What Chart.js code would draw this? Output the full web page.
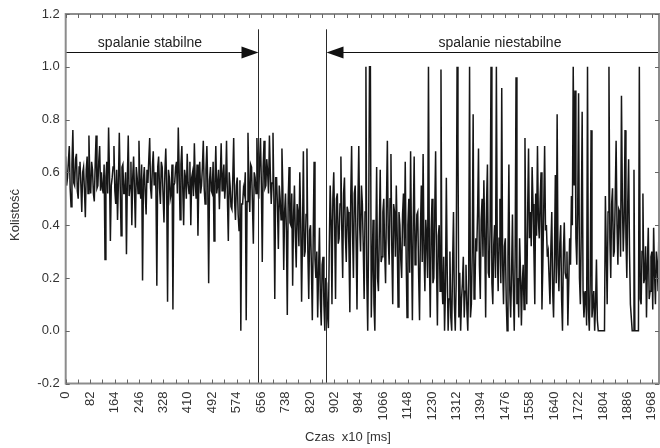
<!DOCTYPE html>
<html>
<head>
<meta charset="utf-8">
<script src="https://cdn.jsdelivr.net/npm/chart.js@4.4.1/dist/chart.umd.min.js"></script>
<style>
  html, body { margin: 0; padding: 0; background: #fff; }
  #wrap { width: 660px; height: 448px; }
</style>
</head>
<body>
<div id="wrap"><canvas id="c" width="660" height="448"></canvas></div>
<script>
// Sampling interval of the series, in units of 10 ms
const SAMPLE_STEP = 3;

// Circularity (kolistość) of the flame, one value per sample
const kolistosc = [
  0.66,0.55,0.58,0.64,0.70,0.54,0.47,0.63,0.76,0.56,0.55,0.65,0.67,0.53,0.50,0.62,0.64,0.55,0.45,0.60,
  0.62,0.53,0.43,0.61,0.66,0.52,0.74,0.57,0.52,0.64,0.61,0.52,0.49,0.63,0.74,0.54,0.55,0.64,0.70,0.53,
  0.60,0.54,0.52,0.63,0.27,0.58,0.64,0.52,0.77,0.60,0.34,0.55,0.58,0.62,0.70,0.53,0.48,0.61,0.42,0.56,
  0.75,0.55,0.36,0.62,0.63,0.52,0.52,0.60,0.29,0.57,0.74,0.51,0.55,0.64,0.40,0.58,0.66,0.53,0.39,0.62,
  0.58,0.52,0.72,0.55,0.50,0.63,0.19,0.57,0.62,0.52,0.44,0.61,0.56,0.65,0.73,0.54,0.50,0.62,0.68,0.55,
  0.60,0.53,0.17,0.62,0.66,0.54,0.48,0.64,0.62,0.51,0.41,0.60,0.69,0.55,0.11,0.61,0.58,0.50,0.52,0.63,
  0.08,0.55,0.56,0.62,0.64,0.52,0.77,0.60,0.42,0.63,0.70,0.54,0.40,0.61,0.58,0.50,0.67,0.56,0.52,0.64,
  0.40,0.58,0.60,0.51,0.71,0.56,0.50,0.63,0.36,0.57,0.64,0.52,0.55,0.62,0.72,0.54,0.48,0.61,0.70,0.55,
  0.18,0.57,0.62,0.53,0.52,0.64,0.34,0.56,0.70,0.52,0.55,0.61,0.46,0.58,0.71,0.53,0.58,0.63,0.50,0.56,
  0.72,0.50,0.34,0.60,0.55,0.47,0.46,0.58,0.73,0.49,0.42,0.55,0.58,0.44,0.38,0.57,0.00,0.48,0.48,0.54,
  0.52,0.60,0.04,0.49,0.75,0.55,0.45,0.63,0.62,0.48,0.33,0.60,0.58,0.52,0.73,0.57,0.50,0.64,0.73,0.55,
  0.26,0.62,0.72,0.54,0.55,0.65,0.60,0.52,0.74,0.60,0.48,0.56,0.75,0.50,0.12,0.58,0.58,0.47,0.31,0.55,
  0.50,0.42,0.69,0.54,0.23,0.45,0.52,0.38,0.06,0.50,0.62,0.41,0.40,0.52,0.17,0.43,0.55,0.36,0.24,0.48,
  0.45,0.32,0.60,0.42,0.11,0.36,0.68,0.28,0.30,0.44,0.69,0.30,0.12,0.38,0.40,0.24,0.04,0.35,0.64,0.27,
  0.20,0.30,0.05,0.22,0.39,0.12,0.02,0.25,0.28,0.10,0.00,0.20,0.18,0.06,0.01,0.32,0.55,0.42,0.10,0.50,
  0.60,0.40,0.12,0.50,0.52,0.33,0.35,0.48,0.66,0.38,0.20,0.52,0.58,0.36,0.26,0.47,0.45,0.31,0.07,0.50,
  0.70,0.38,0.20,0.52,0.55,0.34,0.08,0.47,0.70,0.40,0.30,0.55,0.48,0.32,0.12,0.45,1.00,0.20,0.00,0.35,
  1.00,1.00,0.05,0.25,0.42,0.10,0.00,0.30,0.62,0.20,0.15,0.38,0.61,0.26,0.28,0.45,0.50,0.30,0.18,0.48,
  0.72,0.35,0.25,0.50,0.67,0.30,0.10,0.48,0.45,0.28,0.55,0.36,0.09,0.45,0.40,0.27,0.20,0.44,0.52,0.32,
  0.64,0.28,0.05,0.40,0.50,0.22,0.68,0.33,0.04,0.42,0.66,0.25,0.30,0.44,0.45,0.21,0.04,0.38,0.55,0.26,
  0.67,0.30,0.15,0.42,0.35,0.20,1.00,0.28,0.05,0.38,0.50,0.18,0.20,0.44,0.68,0.25,0.02,0.36,0.40,0.15,
  0.99,0.20,0.10,0.28,0.00,0.15,0.58,0.22,0.00,0.12,0.30,0.05,0.00,0.25,0.45,0.10,0.00,0.18,1.00,0.71,
  0.05,0.22,0.00,0.12,0.18,0.28,0.05,0.15,0.25,0.08,0.00,0.20,1.00,0.05,0.10,0.30,0.82,0.12,0.15,0.35,
  0.30,0.45,0.69,0.25,0.12,0.42,0.50,0.28,0.57,0.35,0.05,0.48,0.63,0.22,0.20,0.40,1.00,0.18,0.10,0.32,
  0.40,0.20,1.00,0.30,0.15,0.35,0.50,0.18,0.92,0.25,0.10,0.32,0.35,0.12,0.00,0.28,0.63,0.15,0.05,0.22,
  0.44,0.15,0.00,0.28,0.96,0.10,0.20,0.05,0.35,0.22,0.02,0.18,0.25,0.08,0.73,0.30,0.10,0.45,0.69,0.35,
  0.45,0.32,0.62,0.48,0.30,0.10,0.52,0.36,0.70,0.42,0.35,0.50,0.60,0.08,0.25,0.46,0.70,0.38,0.40,0.28,
  0.30,0.20,0.10,0.32,0.45,0.15,0.05,0.28,0.59,0.18,0.82,0.25,0.15,0.33,0.40,0.12,0.00,0.30,0.41,0.22,
  0.20,0.30,0.02,0.18,0.35,0.25,0.51,0.40,1.00,0.55,0.91,0.35,0.25,0.45,0.90,0.20,0.10,0.38,0.83,0.15,
  0.05,0.12,0.15,0.02,1.00,0.08,0.00,0.18,0.76,0.05,0.10,0.15,0.00,0.10,0.27,0.04,0.00,0.00,0.00,0.00,
  0.00,0.00,0.00,0.00,0.51,0.30,0.10,0.45,1.00,0.35,0.20,0.48,0.54,0.28,0.30,0.50,0.72,0.40,0.25,0.46,
  0.45,0.28,0.89,0.50,0.30,0.42,0.76,0.35,0.20,0.48,0.65,0.30,0.10,0.05,0.00,0.00,0.61,0.00,0.00,0.00,
  0.00,0.00,1.00,0.12,0.10,0.30,0.52,0.18,0.20,0.32,0.05,0.25,0.39,0.12,0.15,0.28,0.30,0.08,0.39,0.22,
  0.10,0.30,0.25,0.15,0.42
];

// Time of each sample (x10 ms)
const czas = kolistosc.map((_, i) => i * SAMPLE_STEP);

// Axis tick labels
const xTickLabels = [0, 82, 164, 246, 328, 410, 492, 574, 656, 738, 820, 902, 984,
  1066, 1148, 1230, 1312, 1394, 1476, 1558, 1640, 1722, 1804, 1886, 1968];
const yTickLabels = [-0.2, 0.0, 0.2, 0.4, 0.6, 0.8, 1.0, 1.2];

// Boundaries between combustion regimes (x10 ms) and their names
const phaseBounds = [645, 873];
const phaseNames = ['spalanie stabilne', 'spalanie niestabilne'];

const FONT = '"Liberation Sans", Arial, Helvetica, sans-serif';

// Tick marks every half label step
const xMarks = [];
xTickLabels.forEach((v, i) => {
  xMarks.push(v);
  if (i < xTickLabels.length - 1) xMarks.push((v + xTickLabels[i + 1]) / 2);
});

const decorations = {
  id: 'decorations',
  afterDatasetsDraw(chart, args, opts) {
    const { ctx, chartArea: { left, right, bottom }, scales: { x, y } } = chart;
    ctx.save();

    // regime boundaries
    ctx.strokeStyle = '#2a2a2a';
    ctx.lineWidth = 1;
    const bx = phaseBounds.map(v => Math.round(x.getPixelForValue(v)) + 0.5);
    const lineTop = y.getPixelForValue(opts.boundTop);
    bx.forEach(px => {
      ctx.beginPath();
      ctx.moveTo(px, lineTop);
      ctx.lineTo(px, bottom);
      ctx.stroke();
    });

    // arrows
    const ay = Math.round(y.getPixelForValue(opts.arrowLevel)) + 0.5;
    ctx.strokeStyle = '#111';
    ctx.fillStyle = '#111';
    const head = (tipX, dir) => {
      ctx.beginPath();
      ctx.moveTo(tipX, ay);
      ctx.lineTo(tipX - dir * 17, ay - 6);
      ctx.lineTo(tipX - dir * 17, ay + 6);
      ctx.closePath();
      ctx.fill();
    };
    ctx.beginPath();
    ctx.moveTo(left, ay); ctx.lineTo(bx[0] - 10, ay);
    ctx.moveTo(right, ay); ctx.lineTo(bx[1] + 10, ay);
    ctx.stroke();
    head(bx[0], 1);
    head(bx[1], -1);

    // regime names
    ctx.font = '14px ' + FONT;
    ctx.fillStyle = '#222';
    ctx.textAlign = 'center';
    ctx.textBaseline = 'middle';
    const ly = y.getPixelForValue(opts.labelLevel);
    ctx.fillText(phaseNames[0], x.getPixelForValue(opts.labelAt[0]), ly);
    ctx.fillText(phaseNames[1], x.getPixelForValue(opts.labelAt[1]), ly);
    ctx.restore();
  },
  afterDraw(chart) {
    const { ctx, chartArea: { left, right, top, bottom }, scales: { x, y } } = chart;
    ctx.save();
    // frame
    ctx.strokeStyle = '#8c8c8c';
    ctx.lineWidth = 2;
    ctx.strokeRect(left, top, right - left, bottom - top);

    // inward tick marks
    ctx.strokeStyle = '#666';
    ctx.lineWidth = 1;
    ctx.beginPath();
    x.ticks.forEach(t => {
      const px = Math.round(x.getPixelForValue(t.value)) + 0.5;
      ctx.moveTo(px, bottom); ctx.lineTo(px, bottom - 4);
      ctx.moveTo(px, top); ctx.lineTo(px, top + 4);
    });
    y.ticks.forEach(t => {
      const py = Math.round(y.getPixelForValue(t.value)) + 0.5;
      ctx.moveTo(left, py); ctx.lineTo(left + 4, py);
      ctx.moveTo(right, py); ctx.lineTo(right - 4, py);
    });
    ctx.stroke();

    // axis titles
    ctx.fillStyle = '#333';
    ctx.font = '13px ' + FONT;
    ctx.textAlign = 'center';
    ctx.textBaseline = 'middle';
    ctx.fillText('Czas  x10 [ms]', 348, 437);
    ctx.translate(15, 215);
    ctx.rotate(-Math.PI / 2);
    ctx.fillText('Kolistość', 0, 0);
    ctx.restore();
  }
};

new Chart(document.getElementById('c').getContext('2d'), {
  type: 'line',
  data: {
    datasets: [{
      data: czas.map((t, i) => ({ x: t, y: kolistosc[i] })),
      borderColor: '#161616',
      borderWidth: 1.5,
      borderJoinStyle: 'miter',
      pointRadius: 0,
      tension: 0,
      fill: false
    }]
  },
  options: {
    responsive: false,
    animation: false,
    events: [],
    layout: { padding: { top: 14, right: 1, left: 0, bottom: 0 } },
    plugins: {
      legend: { display: false },
      tooltip: { enabled: false },
      decorations: {
        boundTop: 1.142,
        arrowLevel: 1.055,
        labelLevel: 1.089,
        labelAt: [283, 1458]
      }
    },
    scales: {
      x: {
        type: 'linear',
        min: 0,
        max: 1992,
        afterBuildTicks(s) { s.ticks = xMarks.map(v => ({ value: v })); },
        afterFit(s) { s.height = 64.5; s.paddingLeft = 0; s.paddingRight = 0; },
        grid: { display: false, drawTicks: false },
        border: { display: false },
        ticks: {
          autoSkip: false,
          maxRotation: 90,
          minRotation: 90,
          padding: 8,
          color: '#333',
          font: { size: 13, family: FONT },
          callback: v => (xTickLabels.includes(v) ? String(v) : '')
        }
      },
      y: {
        type: 'linear',
        min: -0.2,
        max: 1.2,
        afterBuildTicks(s) { s.ticks = yTickLabels.map(v => ({ value: v })); },
        afterFit(s) { s.width = 65.7; s.paddingTop = 0; s.paddingBottom = 0; },
        grid: { display: false, drawTicks: false },
        border: { display: false },
        ticks: {
          padding: 6,
          color: '#333',
          font: { size: 13, family: FONT },
          callback: v => v.toFixed(1)
        }
      }
    }
  },
  plugins: [decorations]
});
</script>
</body>
</html>
